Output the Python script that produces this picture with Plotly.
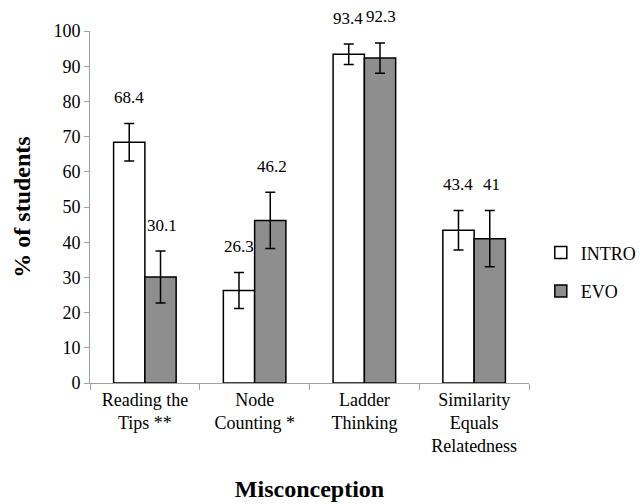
import plotly.graph_objects as go

categories = ["Reading the<br>Tips **", "Node<br>Counting *", "Ladder<br>Thinking", "Similarity<br>Equals<br>Relatedness"]
intro_vals = [68.4, 26.3, 93.4, 43.4]
evo_vals = [30.1, 46.2, 92.3, 41]
intro_err = [5.3, 5.1, 2.9, 5.6]
evo_err = [7.4, 8.0, 4.3, 8.0]
y_ticks = [0, 10, 20, 30, 40, 50, 60, 70, 80, 90, 100]

FONT = "Times New Roman"

fig = go.Figure()
fig.add_trace(go.Bar(
    name="INTRO", x=categories, y=intro_vals, legendgroup="a",
    marker=dict(color="white", line=dict(color="black", width=1.5)),
    error_y=dict(type="data", array=intro_err, color="black", thickness=1.5, width=5),
))
fig.add_trace(go.Bar(
    name="EVO", x=categories, y=evo_vals, legendgroup="b",
    marker=dict(color="#8e8e8e", line=dict(color="black", width=1.5)),
    error_y=dict(type="data", array=evo_err, color="black", thickness=1.5, width=5),
))

for vals, errs, shift in [(intro_vals, intro_err, -16), (evo_vals, evo_err, 17)]:
    for c, v, e in zip(categories, vals, errs):
        fig.add_annotation(x=c, y=v + e, text=str(v), showarrow=False,
                           xshift=shift, yshift=26, yanchor="middle",
                           font=dict(family=FONT, size=17, color="black"))

fig.update_layout(
    width=640, height=504,
    margin=dict(l=90, r=111, t=31, b=121, autoexpand=False),
    paper_bgcolor="white", plot_bgcolor="white",
    font=dict(family=FONT, size=18, color="black"),
    barmode="group", bargap=0.43, bargroupgap=0,
    showlegend=True,
    legend=dict(x=0.845, y=0.535, xref="container", yref="container",
                xanchor="left", yanchor="top",
                font=dict(family=FONT, size=18, color="black"),
                tracegroupgap=12, itemwidth=30, bgcolor="rgba(0,0,0,0)"),
    xaxis=dict(
        title=dict(text="<b>Misconception</b>", font=dict(family=FONT, size=24), standoff=24),
        showline=True, linecolor="#a0a0a0", linewidth=1,
        ticks="outside", ticklen=6, tickcolor="#a0a0a0", tickson="boundaries",
        showgrid=False, tickfont=dict(family=FONT, size=18), automargin=False,
    ),
    yaxis=dict(
        title=dict(text="<b>% of students</b>", font=dict(family=FONT, size=24), standoff=16),
        range=[0, 100], tickvals=y_ticks,
        showline=True, linecolor="#a0a0a0", linewidth=1,
        ticks="outside", ticklen=5, tickcolor="#a0a0a0",
        showgrid=False, zeroline=False, tickfont=dict(family=FONT, size=18), automargin=False,
    ),
)

fig.write_html("out.html", config={"displayModeBar": False},
               post_script="document.body.style.margin='0';")
